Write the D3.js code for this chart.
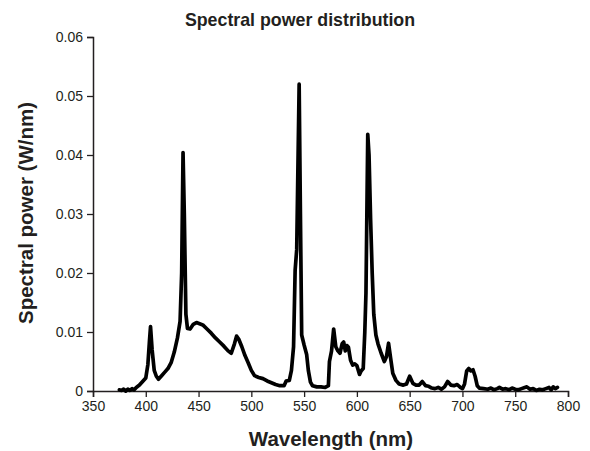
<!DOCTYPE html>
<html>
<head>
<meta charset="utf-8">
<script src="https://cdn.jsdelivr.net/npm/d3@7"></script>
<style>
  body { margin: 0; background: #fff; }
  text { font-family: "Liberation Sans", Arial, sans-serif; fill: #231f20; }
</style>
</head>
<body>
<svg id="chart" width="590" height="451"></svg>
<script>
// wavelength (nm) and spectral power (W/nm)
const wavelengths = [
  375, 377, 379, 381, 383, 385, 387, 389, 391, 394, 397, 400, 402, 403.5, 404.5, 406, 408, 410, 412, 415,
  418, 421, 424, 427, 430, 432.5, 434, 435.3, 436.5, 438, 439.5, 442, 445, 448, 451, 454, 458, 462, 466, 470,
  474, 478, 481, 484, 486, 488, 491, 494, 497, 500, 503, 507, 511, 515, 519, 523, 527, 531, 533, 536,
  538, 540, 541.5, 543, 545.3, 546.5, 547.7, 550, 552.4, 554, 556, 558, 562, 566, 570, 573, 574, 576, 578, 580,
  582, 584, 586, 587.5, 589, 590.5, 592, 594, 596, 598, 600, 602.5, 604, 606, 607.5, 608.6, 610.3, 611.5, 613, 614.5,
  616, 618, 620, 623, 626, 628, 630, 632, 634, 637, 640, 644, 647, 650, 653, 656, 659, 662, 665, 668,
  671, 674, 677, 680, 683, 686, 689, 692, 695, 698, 700, 702, 704, 706, 708, 710, 712, 714, 716, 720,
  724, 727, 730, 733, 735, 738, 741, 744, 747, 750, 753, 756, 759, 761, 764, 767, 770, 773, 776, 779,
  782, 784, 786, 788, 790
];
const power = [
  0.0002, 0.0001, 0.0003, 0.0000, 0.0003, 0.0001, 0.0004, 0.0002, 0.0006, 0.0010, 0.0016, 0.0022, 0.0045, 0.0085, 0.0109, 0.0070, 0.0035, 0.0025, 0.0020, 0.0026,
  0.0032, 0.0038, 0.0048, 0.0066, 0.0090, 0.0118, 0.0200, 0.0404, 0.0300, 0.0130, 0.0106, 0.0105, 0.0113, 0.0116, 0.0114, 0.0112, 0.0105, 0.0098, 0.0090, 0.0083,
  0.0076, 0.0068, 0.0064, 0.0080, 0.0093, 0.0088, 0.0075, 0.0060, 0.0048, 0.0035, 0.0026, 0.0023, 0.0021, 0.0017, 0.0014, 0.0011, 0.0009, 0.0009, 0.0017, 0.0018,
  0.0035, 0.0075, 0.0205, 0.0240, 0.0520, 0.0300, 0.0095, 0.0078, 0.0062, 0.0035, 0.0015, 0.0009, 0.0007, 0.0007, 0.0006, 0.0009, 0.0050, 0.0068, 0.0105, 0.0075,
  0.0068, 0.0064, 0.0080, 0.0083, 0.0068, 0.0077, 0.0074, 0.0052, 0.0044, 0.0046, 0.0043, 0.0028, 0.0034, 0.0038, 0.0100, 0.0166, 0.0435, 0.0400, 0.0290, 0.0200,
  0.0130, 0.0095, 0.0080, 0.0064, 0.0050, 0.0058, 0.0081, 0.0055, 0.0030, 0.0018, 0.0012, 0.0010, 0.0012, 0.0025, 0.0013, 0.0010, 0.0010, 0.0016, 0.0009, 0.0008,
  0.0005, 0.0004, 0.0006, 0.0003, 0.0007, 0.0016, 0.0010, 0.0009, 0.0011, 0.0006, 0.0004, 0.0012, 0.0034, 0.0038, 0.0034, 0.0036, 0.0025, 0.0009, 0.0005, 0.0004,
  0.0003, 0.0005, 0.0002, 0.0004, 0.0006, 0.0003, 0.0004, 0.0002, 0.0005, 0.0003, 0.0002, 0.0004, 0.0006, 0.0007, 0.0003, 0.0004, 0.0001, 0.0003, 0.0002, 0.0004,
  0.0006, 0.0002, 0.0007, 0.0004, 0.0006
];
const xTicks = [350, 400, 450, 500, 550, 600, 650, 700, 750, 800];
const yTicks = [0, 0.01, 0.02, 0.03, 0.04, 0.05, 0.06];

const margin = {top: 37, right: 22, bottom: 60, left: 93};
const width = 590, height = 451;

const svg = d3.select("#chart");

const x = d3.scaleLinear()
    .domain([350, 800])
    .range([margin.left, width - margin.right]);

const y = d3.scaleLinear()
    .domain([0, 0.06])
    .range([height - margin.bottom, margin.top]);

svg.append("g")
    .attr("transform", "translate(0," + (height - margin.bottom) + ")")
    .call(d3.axisBottom(x).tickValues(xTicks).tickSize(6).tickSizeOuter(6).tickPadding(4).tickFormat(d3.format("d")));

svg.append("g")
    .attr("transform", "translate(" + margin.left + ",0)")
    .call(d3.axisLeft(y).tickValues(yTicks).tickSize(6).tickSizeOuter(6).tickPadding(4)
        .tickFormat(d => d === 0 ? "0" : d3.format(".2f")(d)));

svg.selectAll(".domain").attr("stroke", "#231f20").attr("stroke-width", 1.5);
svg.selectAll(".tick line").attr("stroke", "#231f20").attr("stroke-width", 1.3);
svg.selectAll(".tick text")
    .attr("font-size", 14)
    .attr("font-family", "Liberation Sans, Arial, sans-serif")
    .attr("fill", "#231f20");

let points = wavelengths.map((w, i) => [w, power[i]]);

let line = d3.line()
    .x(d => x(d[0]))
    .y(d => y(d[1]));

svg.append("path")
    .datum(points)
    .attr("d", line)
    .attr("fill", "none")
    .attr("stroke", "#000")
    .attr("stroke-width", 3.7)
    .attr("stroke-linejoin", "round")
    .attr("stroke-linecap", "round");

svg.append("text")
    .attr("x", 300)
    .attr("y", 26)
    .attr("text-anchor", "middle")
    .attr("font-size", 17.8)
    .attr("font-weight", "bold")
    .text("Spectral power distribution");

svg.append("text")
    .attr("x", 331)
    .attr("y", 446)
    .attr("text-anchor", "middle")
    .attr("font-size", 20.5)
    .attr("font-weight", "bold")
    .text("Wavelength (nm)");

svg.append("text")
    .attr("transform", "translate(33,213) rotate(-90)")
    .attr("text-anchor", "middle")
    .attr("font-size", 20.5)
    .attr("font-weight", "bold")
    .text("Spectral power (W/nm)");
</script>
</body>
</html>
